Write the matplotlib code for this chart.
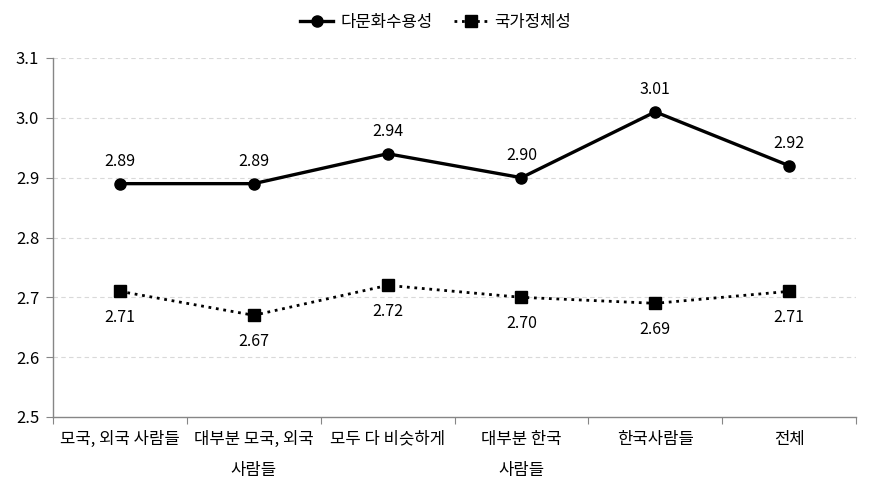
import matplotlib
matplotlib.use("Agg")
import matplotlib.pyplot as plt
import numpy as np

plt.rcParams["font.family"] = ["Noto Sans CJK KR", "DejaVu Sans"]

CATEGORIES = ["모국, 외국 사람들", "대부분 모국, 외국\n사람들", "모두 다 비슷하게",
              "대부분 한국\n사람들", "한국사람들", "전체"]
MULTI = [2.89, 2.89, 2.94, 2.90, 3.01, 2.92]      # 다문화수용성
NATION = [2.71, 2.67, 2.72, 2.70, 2.69, 2.71]     # 국가정체성
YTICKS = [2.5, 2.6, 2.7, 2.8, 2.9, 3.0, 3.1]

INK = "#000000"
AXIS = "#868686"
GRID = "#d9d9d9"
FS = 12

fig = plt.figure(figsize=(8.71, 4.94), dpi=100)
ax = fig.add_axes([53 / 871, 1 - 417 / 494, (856 - 53) / 871, (417 - 58) / 494])

x = np.arange(len(CATEGORIES))
ax.plot(x, MULTI, color=INK, linewidth=2.4, marker="o", markersize=8, label="다문화수용성")
ax.plot(x, NATION, color=INK, linewidth=2, linestyle=(0, (1, 1.7)), marker="s",
        markersize=9, label="국가정체성")

for xi, v in zip(x, MULTI):
    ax.annotate(f"{v:.2f}", xy=(xi, v), xytext=(0, 10), textcoords="offset points",
                ha="center", va="bottom", fontsize=11.5)
for xi, v in zip(x, NATION):
    ax.annotate(f"{v:.2f}", xy=(xi, v), xytext=(0, -13), textcoords="offset points",
                ha="center", va="top", fontsize=11.5)

ax.set_xlim(-0.5, len(CATEGORIES) - 0.5)
ax.set_ylim(2.5, 3.1)
ax.set_yticks(YTICKS)
ax.set_yticklabels([f"{t:.1f}" for t in YTICKS], fontsize=FS)
for t in YTICKS[1:]:
    ax.axhline(t, color=GRID, linewidth=0.8, linestyle=(0, (4, 3)), zorder=0)

# boundaries get the tick marks, centers get the labels
ax.set_xticks(np.arange(len(CATEGORIES) + 1) - 0.5)
ax.set_xticklabels([])
ax.set_xticks(x, minor=True)
ax.set_xticklabels(CATEGORIES, minor=True, fontsize=FS, linespacing=2.05)
ax.tick_params(axis="x", which="minor", length=0, pad=10)
ax.tick_params(axis="x", which="major", length=5, color=AXIS, direction="out")
ax.tick_params(axis="y", length=5, color=AXIS, direction="out", pad=5)

for s in ["top", "right"]:
    ax.spines[s].set_visible(False)
for s in ["left", "bottom"]:
    ax.spines[s].set_color(AXIS)
    ax.spines[s].set_linewidth(1)

fig.legend(loc="center", bbox_to_anchor=(0.5, 1 - 22 / 494), ncol=2, frameon=False,
           fontsize=FS, handlelength=2.0, columnspacing=1.3, handletextpad=0.4)

fig.savefig("out.png", dpi=100, facecolor="white")
